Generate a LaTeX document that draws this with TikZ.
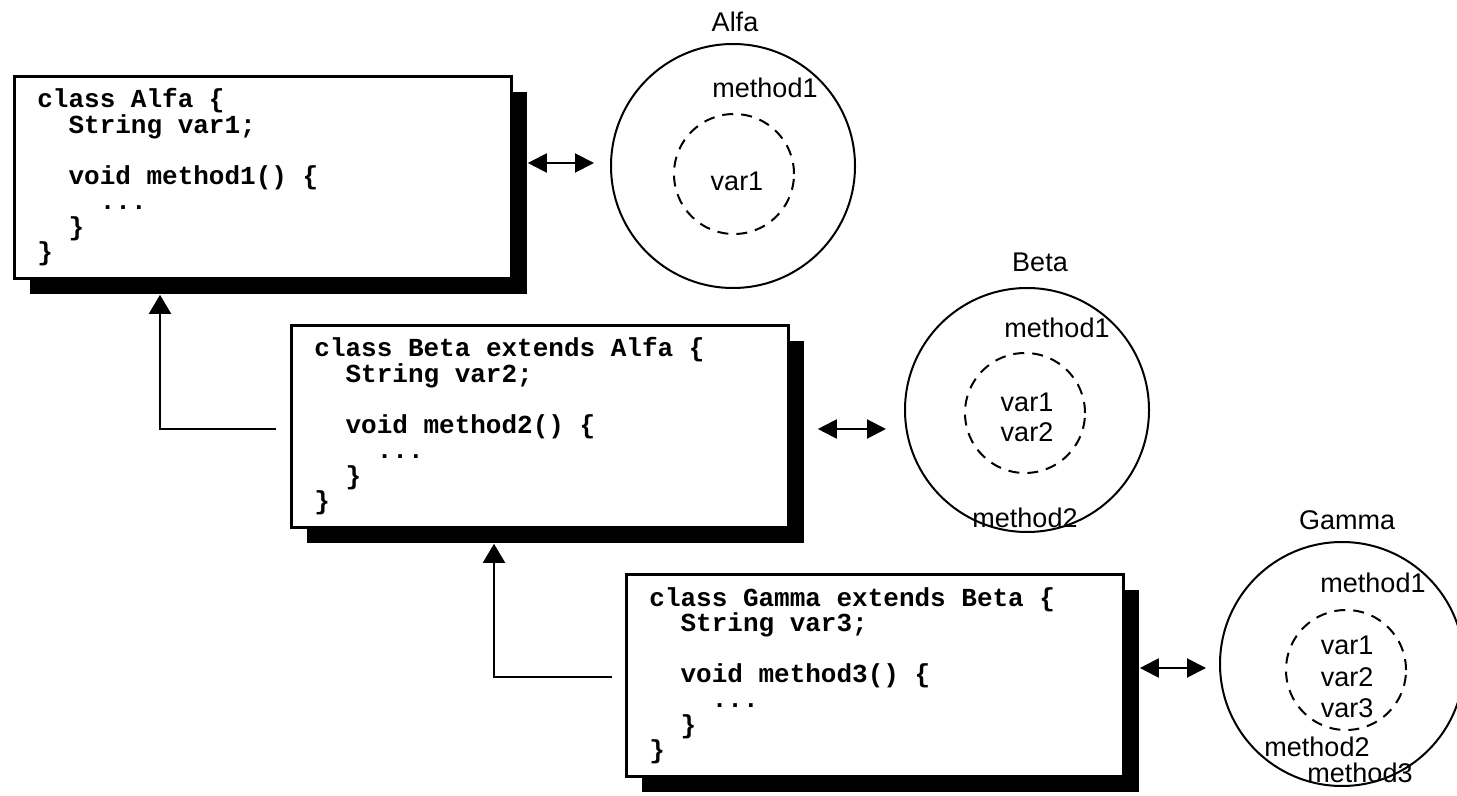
\documentclass[tikz,border=0pt]{standalone}
\usepackage{fontspec}
\setmainfont{Liberation Sans}
\newfontfamily\codefont{Liberation Mono}
\usetikzlibrary{arrows.meta}
\newcommand\sq{\leavevmode\hbox to 0.6em{}}
\begin{document}
\begin{tikzpicture}[x=0.5pt,y=-0.5pt,
  classbox/.style={draw=black, line width=1.3pt, fill=white, rectangle, minimum width=248.5pt, minimum height=101pt, anchor=north west, inner sep=0pt},
  shadowbox/.style={fill=black, rectangle, minimum width=248.5pt, minimum height=101pt, anchor=north west, inner sep=0pt},
  code/.style={anchor=base west, inner sep=0pt, text width=235pt, align=left, font={\codefont\bfseries\fontsize{13pt}{12.75pt}\selectfont}},
  outer/.style={circle, draw=black, line width=1pt, minimum size=122pt, inner sep=0pt},
  inner/.style={circle, draw=black, line width=1pt, dash pattern=on 5.5pt off 4pt, minimum size=60pt, inner sep=0pt},
  lbl/.style={inner sep=0pt, font={\fontsize{13.5pt}{15pt}\selectfont}},
  dbl/.style={{Triangle[width=9.5pt,length=9.5pt]}-{Triangle[width=9.5pt,length=9.5pt]}, line width=1pt},
  inh/.style={-{Triangle[width=11pt,length=9.5pt]}, line width=1pt}
]
\useasboundingbox (0,0) rectangle (1457,796);

% Alfa
\node[shadowbox] (alfash) at (30,92) {};
\node[classbox] (alfa) at (13,75) {};
\node[code] (alfatxt) at ([xshift=12pt,yshift=-16.5pt]alfa.north west) {class\sq Alfa\sq\{\\
\sq\sq String\sq var1;\\[12.75pt]
\sq\sq void\sq method1()\sq\{\\
\sq\sq\sq\sq...\\
\sq\sq\}\\
\}};

% Beta
\node[shadowbox] (betash) at (307,341) {};
\node[classbox] (beta) at (290,324) {};
\node[code] (betatxt) at ([xshift=12pt,yshift=-16.5pt]beta.north west) {class\sq Beta\sq extends\sq Alfa\sq\{\\
\sq\sq String\sq var2;\\[12.75pt]
\sq\sq void\sq method2()\sq\{\\
\sq\sq\sq\sq...\\
\sq\sq\}\\
\}};

% Gamma
\node[shadowbox] (gammash) at (642,590) {};
\node[classbox] (gamma) at (625,573) {};
\node[code] (gammatxt) at ([xshift=12pt,yshift=-16.5pt]gamma.north west) {class\sq Gamma\sq extends\sq Beta\sq\{\\
\sq\sq String\sq var3;\\[12.75pt]
\sq\sq void\sq method3()\sq\{\\
\sq\sq\sq\sq...\\
\sq\sq\}\\
\}};

% circles
\node[outer] (alfac) at (733,166) {};
\node[inner] (alfad) at (734,174) {};
\node[lbl] (alfaname) at (735,22) {Alfa};
\node[lbl] (alfam1) at (765,88) {method1};
\node[lbl] (alfav1) at (737,181) {var1};

\node[outer] (betac) at (1027,410) {};
\node[inner] (betad) at (1025,413) {};
\node[lbl] (betaname) at (1040,262) {Beta};
\node[lbl] (betam1) at (1057,328) {method1};
\node[lbl] (betav1) at (1027,402) {var1};
\node[lbl] (betav2) at (1027,432) {var2};
\node[lbl] (betam2) at (1025,518) {method2};

\node[outer] (gammac) at (1342,664) {};
\node[inner] (gammad) at (1346,670) {};
\node[lbl] (gammaname) at (1347,520) {Gamma};
\node[lbl] (gammam1) at (1373,583) {method1};
\node[lbl] (gammav1) at (1347,645) {var1};
\node[lbl] (gammav2) at (1347,677) {var2};
\node[lbl] (gammav3) at (1347,708) {var3};
\node[lbl] (gammam2) at (1317,747) {method2};
\node[lbl] (gammam3) at (1360,773) {method3};

% double arrows
\coordinate (ca) at ([yshift=1.5pt]alfac.west);
\draw[dbl, shorten >=8pt] (ca -| alfash.east) -- (ca);
\coordinate (cb) at ([yshift=-9.5pt]betac.west);
\draw[dbl, shorten <=6.5pt, shorten >=9pt] (cb -| betash.east) -- (cb);
\coordinate (cg) at ([yshift=-2pt]gammac.west);
\draw[dbl, shorten >=6.5pt] (cg -| gammash.east) -- (cg);

% inheritance arrows
\draw[inh] ([xshift=-7pt,yshift=-1.5pt]beta.west) -| ([xshift=65pt]alfash.south west);
\draw[inh] ([xshift=-6.5pt,yshift=-1pt]gamma.west) -| ([xshift=93.5pt]betash.south west);
\end{tikzpicture}
\end{document}
